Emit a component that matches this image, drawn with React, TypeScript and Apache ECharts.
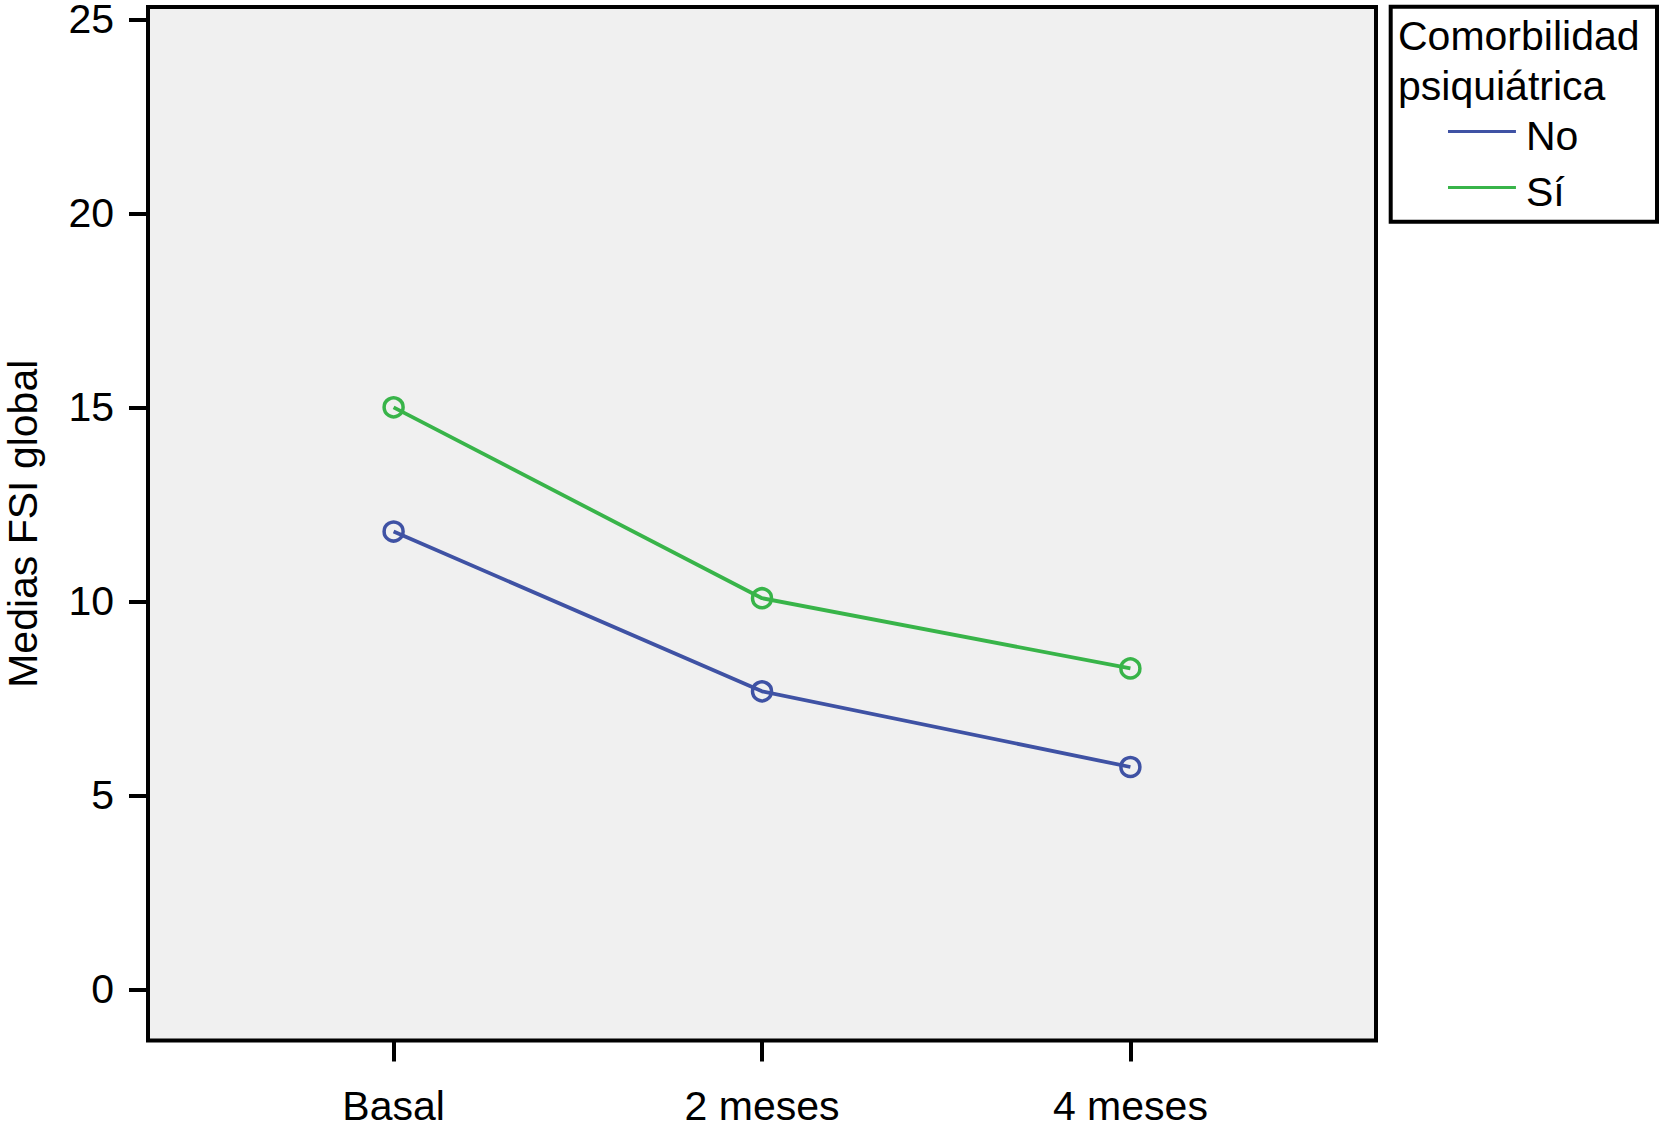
import React, { useEffect, useRef } from "react";
import * as echarts from "echarts";

const categories = ["Basal", "2 meses", "4 meses"];
const noValues = [11.8, 7.68, 5.73];
const siValues = [15.0, 10.08, 8.27];
const yTicks = [0, 5, 10, 15, 20, 25];
const seriesNames = ["No", "Sí"];
const legendTitle = ["Comorbilidad", "psiquiátrica"];
const yAxisName = "Medias FSI global";

const BLUE = "#3F52A4";
const GREEN = "#38B449";
const FONT = "'Liberation Sans', Arial, Helvetica, sans-serif";
const FS = 41;
// legend icon: a line at the top of a 12px-high box, so the line sits above the text middle
const LEGEND_ICON = "path://M0,0H68V3H0Z M0,12H0.01V12.01H0Z";

export default function App() {
  const ref = useRef<HTMLDivElement>(null);
  useEffect(() => {
    document.body.style.margin = "0";
    const chart = echarts.init(ref.current!, null, { renderer: "svg" });
    const toPts = (vals: number[]) => vals.map((v, i) => [i, v]);
    const mkSeries = (name: string, vals: number[], color: string) => ({
      name,
      type: "line",
      data: toPts(vals),
      symbol: "circle",
      symbolSize: 19,
      lineStyle: { color, width: 3.8 },
      itemStyle: { color: "transparent", borderColor: color, borderWidth: 3.5 },
      z: 3,
    });
    chart.setOption({
      animation: false,
      backgroundColor: "#ffffff",
      textStyle: { fontFamily: FONT },
      grid: {
        left: 148,
        right: 284,
        top: 7,
        bottom: 86.5,
        show: true,
        backgroundColor: "#f0f0f0",
        borderColor: "#000000",
        borderWidth: 4,
        containLabel: false,
        outerBoundsMode: "none",
      },
      xAxis: {
        type: "value",
        min: -2 / 3,
        max: 8 / 3,
        splitLine: { show: false },
        axisLine: { show: false, onZero: false },
        axisTick: {
          show: true,
          customValues: categories.map((_, i) => i),
          length: 21,
          lineStyle: { color: "#000", width: 4 },
        },
        axisLabel: {
          customValues: categories.map((_, i) => i),
          formatter: (v: number) => categories[Math.round(v)] ?? "",
          color: "#000",
          fontSize: FS,
          lineHeight: 30,
          fontFamily: FONT,
          margin: 50.5,
        },
      },
      yAxis: {
        type: "value",
        min: -1.32,
        max: 25.32,
        name: yAxisName,
        nameLocation: "middle",
        nameGap: 105,
        nameTextStyle: { color: "#000", fontSize: FS, fontFamily: FONT },
        splitLine: { show: false },
        axisLine: { show: false, onZero: false },
        axisTick: {
          show: true,
          customValues: yTicks,
          length: 19,
          lineStyle: { color: "#000", width: 4 },
        },
        axisLabel: {
          customValues: yTicks,
          color: "#000",
          fontSize: FS,
          lineHeight: 30,
          fontFamily: FONT,
          margin: 34,
        },
      },
      legend: {
        orient: "vertical",
        left: 1448,
        top: 115.5,
        padding: 0,
        itemWidth: 68,
        itemHeight: 12,
        itemGap: 15,
        icon: LEGEND_ICON,
        itemStyle: { borderWidth: 0 },
        textStyle: { color: "#000", fontSize: FS, fontFamily: FONT, padding: [0, 0, 0, 5] },
        data: [
          { name: seriesNames[0], itemStyle: { color: BLUE, borderWidth: 0 } },
          { name: seriesNames[1], itemStyle: { color: GREEN, borderWidth: 0 } },
        ],
        selectedMode: false,
      },
      graphic: [
        {
          type: "rect",
          shape: { x: 1390.7, y: 6.7, width: 266.3, height: 215 },
          style: { fill: "transparent", stroke: "#000", lineWidth: 4 },
        },
        {
          type: "text",
          x: 1398,
          y: 36,
          style: { text: legendTitle[0], fill: "#000", fontSize: FS, fontFamily: FONT, verticalAlign: "middle" },
        },
        {
          type: "text",
          x: 1398,
          y: 86,
          style: { text: legendTitle[1], fill: "#000", fontSize: FS, fontFamily: FONT, verticalAlign: "middle" },
        },
      ],
      series: [mkSeries(seriesNames[0], noValues, BLUE), mkSeries(seriesNames[1], siValues, GREEN)],
    });
    return () => chart.dispose();
  }, []);
  return <div ref={ref} style={{ width: 1660, height: 1127 }} />;
}
